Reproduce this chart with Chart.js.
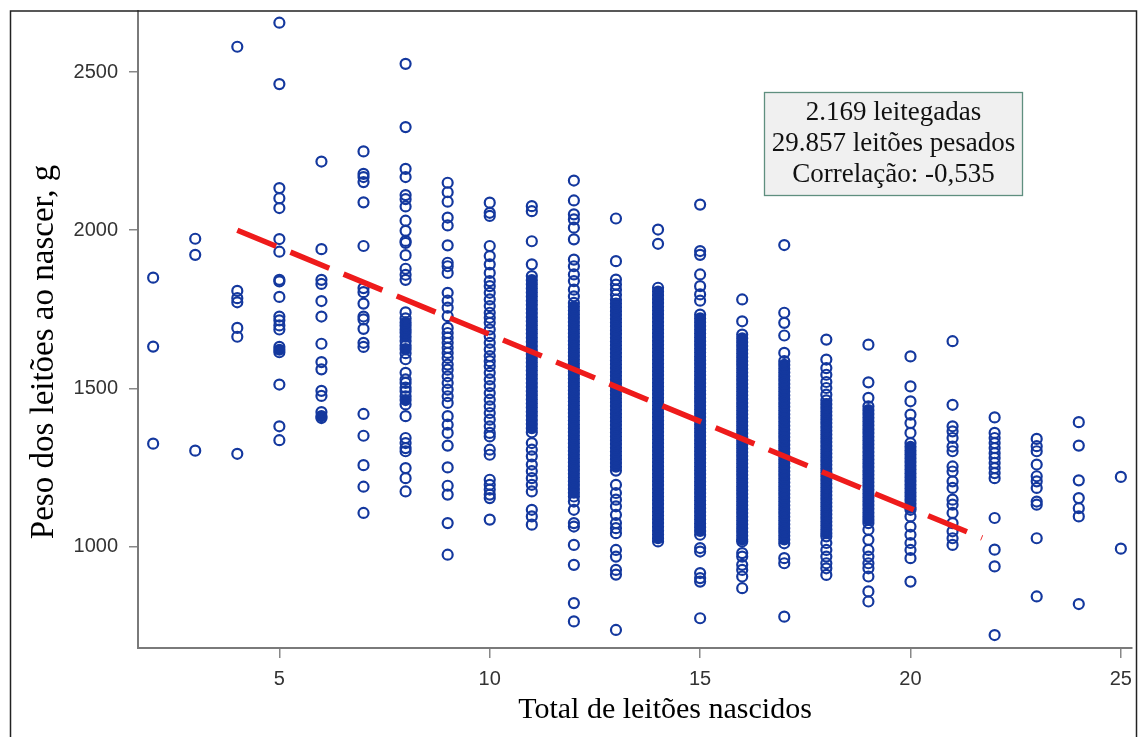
<!DOCTYPE html>
<html>
<head>
<meta charset="utf-8">
<script src="https://cdn.jsdelivr.net/npm/chart.js@4.4.1/dist/chart.umd.min.js"></script>
<style>
  html, body { margin: 0; padding: 0; background: #fff; }
  #wrap { width: 1139px; height: 737px; position: relative; }
</style>
</head>
<body>
<div id="wrap"><canvas id="chart"></canvas></div>
<script>
// total de leitões nascidos (x) and peso ao nascer (g), column by column
const litterSizes = [2, 3, 4, 5, 6, 7, 8, 9, 10, 11, 12, 13, 14, 15, 16, 17, 18, 19, 20, 21, 22, 23, 24, 25];

const w02 = [1850, 1632, 1325];
const w03 = [1973, 1922, 1303];
const w04 = [2580, 1808, 1785, 1772, 1691, 1663, 1293];
const w05 = [2656, 2462, 2133, 2101, 2070, 1972, 1932, 1843, 1838, 1789, 1727, 1715, 1699, 1686, 1631, 1622, 1614, 1512, 1380, 1336];
const w06 = [2217, 1940, 1843, 1830, 1776, 1727, 1641, 1583, 1560, 1492, 1476, 1425, 1412, 1406];
const w07 = [2249, 2178, 2168, 2152, 2088, 1950, 1817, 1804, 1768, 1727, 1718, 1688, 1644, 1631, 1419, 1350, 1257, 1189, 1106];
const w08 = [2526, 2326, 2194, 2168, 2111, 2098, 2075, 2030, 1998, 1966, 1960, 1921, 1878, 1859, 1843, 1740, 1721, 1708, 1698,
  1686, 1676, 1663, 1650, 1635, 1624, 1611, 1592, 1549, 1528, 1517, 1502, 1491, 1475, 1463, 1449, 1412, 1343, 1327, 1311,
  1301, 1248, 1216, 1174];
const w09 = [2150, 2120, 2090, 2040, 2015, 1952, 1897, 1886, 1865, 1802, 1777, 1755, 1728, 1691, 1675, 1660, 1644, 1628,
  1612, 1596, 1575, 1559, 1538, 1517, 1496, 1475, 1454, 1412, 1385, 1359, 1319, 1250, 1192, 1164, 1074, 974];
const w10 = [2087, 2055, 2045, 1950, 1918, 1892, 1865, 1839, 1823, 1802, 1781, 1760, 1739, 1723, 1707, 1686, 1665, 1644,
  1623, 1602, 1586, 1570, 1549, 1528, 1507, 1485, 1464, 1443, 1422, 1401, 1380, 1359, 1348, 1306, 1290, 1211, 1195, 1180,
  1164, 1153, 1085];
const w11 = [2076, 2060, 1965, 1892, 1855, 1842, 1829, 1816, 1803, 1790, 1777, 1764, 1751, 1738, 1725, 1712, 1699, 1686,
  1673, 1660, 1647, 1634, 1621, 1608, 1595, 1582, 1569, 1556, 1543, 1530, 1517, 1504, 1491, 1478, 1465, 1452, 1439, 1426,
  1413, 1400, 1387, 1374, 1361, 1327, 1306, 1285, 1259, 1238, 1216, 1195, 1174, 1116, 1095, 1069];
const w12 = [2157, 2094, 2050, 2034, 2008, 1971, 1907, 1886, 1860, 1839, 1812, 1791, 1770, 1758, 1746, 1734, 1722, 1710,
  1698, 1686, 1674, 1662, 1650, 1638, 1626, 1614, 1602, 1590, 1578, 1566, 1554, 1542, 1530, 1518, 1506, 1494, 1482, 1470,
  1458, 1446, 1434, 1422, 1410, 1398, 1386, 1374, 1362, 1350, 1338, 1326, 1314, 1302, 1290, 1278, 1266, 1254, 1242, 1230,
  1218, 1206, 1194, 1182, 1170, 1158, 1142, 1116, 1074, 1063, 1005, 942, 821, 763];
const w13 = [2037, 1902, 1844, 1828, 1812, 1796, 1780, 1768, 1756, 1744, 1732, 1720, 1708, 1696, 1684, 1672, 1660, 1648,
  1636, 1624, 1612, 1600, 1588, 1576, 1564, 1552, 1540, 1528, 1516, 1504, 1492, 1480, 1468, 1456, 1444, 1432, 1420, 1408,
  1396, 1384, 1372, 1360, 1348, 1336, 1324, 1312, 1300, 1288, 1276, 1264, 1252, 1240, 1195, 1169, 1148, 1127, 1100, 1074,
  1058, 1042, 989, 968, 926, 911, 736];
const w14 = [2002, 1957, 1818, 1806, 1794, 1782, 1770, 1758, 1746, 1734, 1722, 1710, 1698, 1686, 1674, 1662, 1650, 1638,
  1626, 1614, 1602, 1590, 1578, 1566, 1554, 1542, 1530, 1518, 1506, 1494, 1482, 1470, 1458, 1446, 1434, 1422, 1410, 1398,
  1386, 1374, 1362, 1350, 1338, 1326, 1314, 1302, 1290, 1278, 1266, 1254, 1242, 1230, 1218, 1206, 1194, 1182, 1170, 1158,
  1146, 1134, 1122, 1110, 1098, 1086, 1074, 1062, 1050, 1038, 1026, 1016];
const w15 = [2081, 1934, 1922, 1860, 1823, 1797, 1777, 1733, 1721, 1709, 1697, 1685, 1673, 1661, 1649, 1637, 1625, 1613,
  1601, 1589, 1577, 1565, 1553, 1541, 1529, 1517, 1505, 1493, 1481, 1469, 1457, 1445, 1433, 1421, 1409, 1397, 1385, 1373,
  1361, 1349, 1337, 1325, 1313, 1301, 1289, 1277, 1265, 1253, 1241, 1229, 1217, 1205, 1193, 1181, 1169, 1157, 1145, 1133,
  1121, 1109, 1097, 1085, 1073, 1061, 1049, 1037, 995, 984, 916, 900, 889, 773];
const w16 = [1781, 1712, 1670, 1658, 1646, 1634, 1622, 1610, 1598, 1586, 1574, 1562, 1550, 1538, 1526, 1514, 1502, 1490,
  1478, 1466, 1454, 1442, 1430, 1418, 1406, 1394, 1382, 1370, 1358, 1346, 1334, 1322, 1310, 1298, 1286, 1274, 1262, 1250,
  1238, 1226, 1214, 1202, 1190, 1178, 1166, 1154, 1142, 1130, 1118, 1106, 1094, 1082, 1070, 1058, 1046, 1034, 1022, 1016,
  979, 968, 942, 926, 905, 868];
const w17 = [1953, 1739, 1707, 1667, 1612, 1586, 1574, 1562, 1550, 1538, 1526, 1514, 1502, 1490, 1478, 1466, 1454, 1442,
  1430, 1418, 1406, 1394, 1382, 1370, 1358, 1346, 1334, 1322, 1310, 1298, 1286, 1274, 1262, 1250, 1238, 1226, 1214, 1202,
  1190, 1178, 1166, 1154, 1142, 1130, 1118, 1106, 1094, 1082, 1070, 1058, 1046, 1034, 1022, 1010, 963, 947, 778];
const w18 = [1654, 1591, 1564, 1543, 1520, 1501, 1480, 1462, 1450, 1438, 1426, 1414, 1402, 1390, 1378, 1366, 1354, 1342,
  1330, 1318, 1306, 1294, 1282, 1270, 1258, 1246, 1234, 1222, 1210, 1198, 1186, 1174, 1162, 1150, 1138, 1126, 1114, 1102,
  1090, 1078, 1066, 1054, 1042, 1032, 1011, 989, 968, 947, 931, 910];
const w19 = [1638, 1519, 1470, 1443, 1431, 1419, 1407, 1395, 1383, 1371, 1359, 1347, 1335, 1323, 1311, 1299, 1287, 1275,
  1263, 1251, 1239, 1227, 1215, 1203, 1191, 1179, 1167, 1155, 1143, 1131, 1119, 1107, 1095, 1084, 1074, 1053, 1021, 989,
  968, 947, 931, 905, 858, 826];
const w20 = [1601, 1506, 1459, 1417, 1390, 1359, 1327, 1315, 1303, 1291, 1279, 1267, 1255, 1243, 1231, 1219, 1207, 1195,
  1183, 1171, 1159, 1147, 1135, 1123, 1116, 1095, 1063, 1037, 1011, 989, 963, 889];
const w21 = [1649, 1448, 1380, 1364, 1343, 1316, 1301, 1253, 1237, 1206, 1185, 1148, 1132, 1106, 1074, 1048, 1026, 1005];
const w22 = [1408, 1359, 1343, 1327, 1311, 1295, 1280, 1264, 1248, 1232, 1216, 1090, 990, 937, 720];
const w23 = [1340, 1317, 1301, 1259, 1222, 1206, 1185, 1142, 1132, 1026, 842];
const w24 = [1393, 1319, 1209, 1153, 1121, 1095, 818];
const w25 = [1220, 993];

const weightsByLitter = [w02, w03, w04, w05, w06, w07, w08, w09, w10, w11, w12, w13, w14, w15, w16, w17,
  w18, w19, w20, w21, w22, w23, w24, w25];

// dashed regression line, ends
const trendX = [4, 21.7];
const trendY = [2000, 1027];

const xTicks = [5, 10, 15, 20, 25];
const yTicks = [1000, 1500, 2000, 2500];

const xTitle = 'Total de leitões nascidos';
const yTitle = 'Peso dos leitões ao nascer, g';
const boxLines = ['2.169 leitegadas', '29.857 leitões pesados', 'Correlação: -0,535'];

const BLUE = '#14389e';
const RED = '#ee1b1b';
const SANS = '"Liberation Sans", Arial, sans-serif';
const SERIF = '"Liberation Serif", "Times New Roman", serif';

// a point buried inside a run of overlapping markers is filled, so dense columns read as solid bars
const points = [];
litterSizes.forEach((n, i) => {
    const col = weightsByLitter[i].slice().sort((a, b) => a - b);
    col.forEach((w, k) => {
        const inner = k > 0 && k < col.length - 1 && w - col[k - 1] <= 14 && col[k + 1] - w <= 14;
        points.push({x: n, y: w, inner: inner});
    });
});
const trend = trendX.map((x, i) => ({x: x, y: trendY[i]}));

const decor = {
    id: 'decor',
    beforeDraw(chart) {
        const c = chart.ctx;
        c.save();
        c.fillStyle = '#fff';
        c.fillRect(0, 0, chart.width, chart.height);
        c.restore();
    },
    afterDraw(chart) {
        const c = chart.ctx;
        c.save();
        // outer frame
        c.strokeStyle = '#222';
        c.lineWidth = 1.5;
        c.strokeRect(10.5, 11, 1126, 760);

        // axis titles
        c.fillStyle = '#000';
        c.textAlign = 'center';
        c.textBaseline = 'alphabetic';
        c.font = '30px ' + SERIF;
        c.fillText(xTitle, 665, 718);
        c.save();
        c.translate(53, 352);
        c.rotate(-Math.PI / 2);
        c.font = '33px ' + SERIF;
        c.fillText(yTitle, 0, 0);
        c.restore();

        // info box
        c.fillStyle = '#f0f0f0';
        c.fillRect(764, 92, 259, 104);
        c.strokeStyle = '#5f8f7f';
        c.lineWidth = 1.3;
        c.strokeRect(764.5, 92.5, 258, 103);
        c.fillStyle = '#111';
        c.font = '27px ' + SERIF;
        boxLines.forEach((t, i) => c.fillText(t, 893.5, 120 + i * 31));
        c.restore();
    }
};

new Chart(document.getElementById('chart'), {
    type: 'scatter',
    data: {
        datasets: [
            {
                type: 'line',
                data: trend,
                borderColor: RED,
                borderWidth: 5.5,
                borderDash: [42, 15.5],
                borderCapStyle: 'butt',
                pointRadius: 0,
                fill: false,
                order: 0
            },
            {
                data: points,
                pointStyle: 'circle',
                pointRadius: 5,
                pointBorderWidth: 2.2,
                pointBorderColor: BLUE,
                pointBackgroundColor: ctx => (ctx.raw && ctx.raw.inner) ? BLUE : 'rgba(0,0,0,0)',
                order: 1
            }
        ]
    },
    plugins: [decor],
    options: {
        responsive: true,
        maintainAspectRatio: false,
        animation: false,
        events: [],
        layout: {padding: {left: 0, top: 11, right: 2, bottom: 0}},
        plugins: {legend: {display: false}, tooltip: {enabled: false}},
        scales: {
            x: {
                type: 'linear',
                min: 1.64,
                max: 25.26,
                afterBuildTicks: s => { s.ticks = xTicks.map(v => ({value: v})); },
                afterFit: s => { s.height = 89; s.paddingLeft = 0; s.paddingRight = 0; },
                grid: {drawOnChartArea: false, tickLength: 10, color: '#888', lineWidth: 1.5},
                border: {display: true, color: '#7a7a7a', width: 2},
                ticks: {font: {family: SANS, size: 20}, color: '#333', padding: 9, maxRotation: 0,
                    callback: v => String(v)}
            },
            y: {
                type: 'linear',
                min: 679,
                max: 2693,
                afterBuildTicks: s => { s.ticks = yTicks.map(v => ({value: v})); },
                afterFit: s => { s.width = 138; s.paddingTop = 0; s.paddingBottom = 0; },
                grid: {drawOnChartArea: false, tickLength: 9, color: '#888', lineWidth: 1.5},
                border: {display: true, color: '#7a7a7a', width: 2},
                ticks: {font: {family: SANS, size: 20}, color: '#333', padding: 11,
                    callback: v => String(v)}
            }
        }
    }
});
</script>
</body>
</html>
